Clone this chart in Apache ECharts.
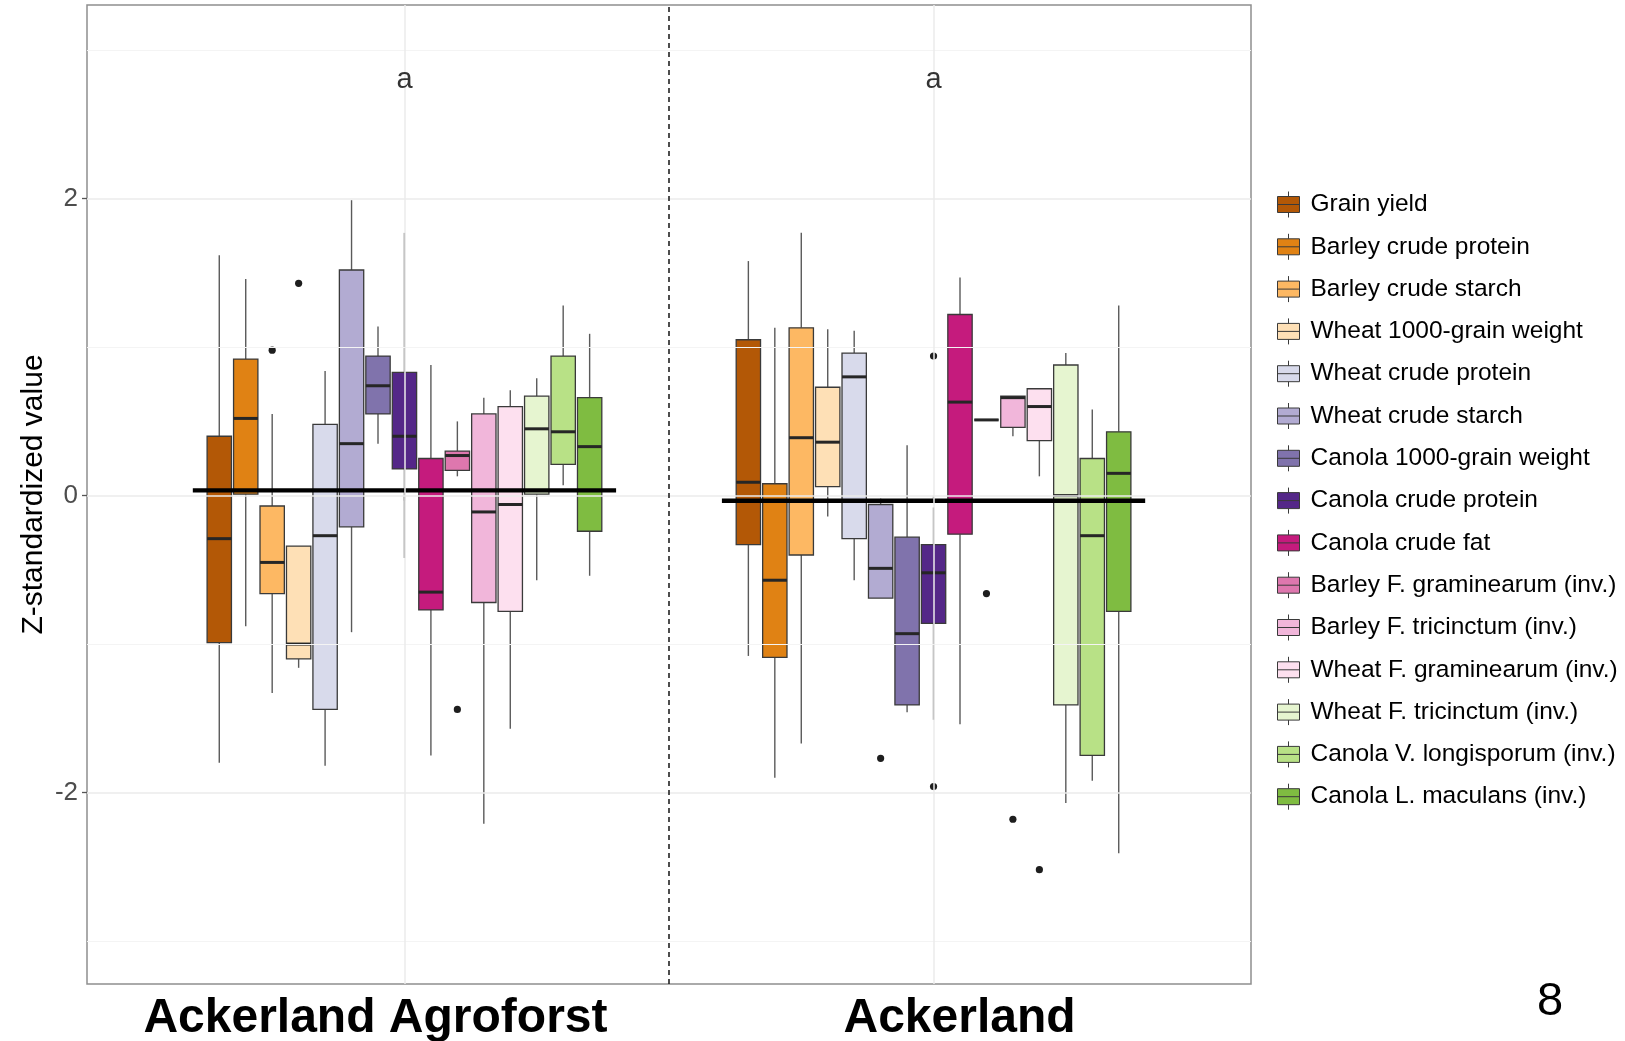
<!DOCTYPE html>
<html>
<head>
<meta charset="utf-8">
<title>Z-standardized values by land use</title>
<script src="https://cdn.jsdelivr.net/npm/echarts@6/dist/echarts.min.js"></script>
<style>
  html, body { margin: 0; padding: 0; background: #ffffff; }
  #chart { width: 1625px; height: 1041px; }
</style>
</head>
<body>
<div id="chart"></div>
<script>
// Land-use groups on the x axis (positions 1 and 2)
const groups = ['Ackerland Agroforst', 'Ackerland'];

// Measured variables, one box per variable within each group
const variables = [
  'Grain yield',
  'Barley crude protein',
  'Barley crude starch',
  'Wheat 1000-grain weight',
  'Wheat crude protein',
  'Wheat crude starch',
  'Canola 1000-grain weight',
  'Canola crude protein',
  'Canola crude fat',
  'Barley F. graminearum (inv.)',
  'Barley F. tricinctum (inv.)',
  'Wheat F. graminearum (inv.)',
  'Wheat F. tricinctum (inv.)',
  'Canola V. longisporum (inv.)',
  'Canola L. maculans (inv.)'
];

// Box statistics per variable: [lower whisker, Q1, median, Q3, upper whisker]
const agroforstBoxes = [
  [-1.80, -0.99, -0.29, 0.40, 1.62],
  [-0.88, 0.01, 0.52, 0.92, 1.46],
  [-1.33, -0.66, -0.45, -0.07, 0.55],
  [-1.16, -1.10, -1.00, -0.34, -0.34],
  [-1.82, -1.44, -0.27, 0.48, 0.84],
  [-0.92, -0.21, 0.35, 1.52, 1.99],
  [0.35, 0.55, 0.74, 0.94, 1.14],
  [-0.42, 0.18, 0.40, 0.83, 1.77],
  [-1.75, -0.77, -0.65, 0.25, 0.88],
  [0.13, 0.17, 0.27, 0.30, 0.50],
  [-2.21, -0.72, -0.11, 0.55, 0.66],
  [-1.57, -0.78, -0.06, 0.60, 0.71],
  [-0.57, 0.01, 0.45, 0.67, 0.79],
  [0.07, 0.21, 0.43, 0.94, 1.28],
  [-0.54, -0.24, 0.33, 0.66, 1.09]
];

const ackerlandBoxes = [
  [-1.08, -0.33, 0.09, 1.05, 1.58],
  [-1.90, -1.09, -0.57, 0.08, 1.13],
  [-1.67, -0.40, 0.39, 1.13, 1.77],
  [-0.14, 0.06, 0.36, 0.73, 1.12],
  [-0.57, -0.29, 0.80, 0.96, 1.11],
  [-0.69, -0.69, -0.49, -0.06, -0.02],
  [-1.46, -1.41, -0.93, -0.28, 0.34],
  [-1.51, -0.86, -0.52, -0.33, -0.08],
  [-1.54, -0.26, 0.63, 1.22, 1.47],
  [0.51, 0.51, 0.51, 0.51, 0.51],
  [0.40, 0.46, 0.66, 0.67, 0.67],
  [0.13, 0.37, 0.60, 0.72, 0.72],
  [-2.07, -1.41, 0.00, 0.88, 0.96],
  [-1.92, -1.75, -0.27, 0.25, 0.58],
  [-2.41, -0.78, 0.15, 0.43, 1.28]
];

// Outlying observations: [variable index, value]
const agroforstOutliers = [[2, 0.98], [3, 1.43], [9, -1.44]];
const ackerlandOutliers = [[5, -1.77], [7, 0.94], [7, -1.96], [9, -0.66], [10, -2.18], [11, -2.52]];

// Group means drawn as a horizontal bar across each group
const groupMeans = [0.035, -0.035];

// Significance letters above each group
const groupLetters = ['a', 'a'];
const letterLevel = 2.81;

// Y-axis tick values
const yTicks = [-2, 0, 2];
const yMinorLines = [-3, -1, 1, 3];

// Fill colours for the variables (PuOr + PiYG ramps)
const palette = [
  '#B35806', '#E08214', '#FDB863', '#FEE0B6', '#D8DAEB', '#B2ABD2', '#8073AC',
  '#542788', '#C51B7D', '#DE77AE', '#F1B6DA', '#FDE0EF', '#E6F5D0', '#B8E186', '#7FBC41'
];

const N = variables.length;
const DODGE = 0.75;          // total width (in x units) shared by the boxes of one group
const BOX_FILL_RATIO = 0.92; // box width relative to its dodge slot
const FONT = '"Liberation Sans", Arial, Helvetica, sans-serif';

function slotOffset(api, idx) {
  const unit = api.size([1, 0])[0];
  const slot = unit * DODGE / N;
  return { off: (idx - (N - 1) / 2) * slot, slot: slot };
}

function makeBoxRenderer(idx) {
  return function (params, api) {
    const xv = api.value(0);
    const s = slotOffset(api, idx);
    const cx = api.coord([xv, 0])[0] + s.off;
    const hw = s.slot * BOX_FILL_RATIO / 2;
    const yLo = api.coord([xv, api.value(1)])[1];
    const yQ1 = api.coord([xv, api.value(2)])[1];
    const yMed = api.coord([xv, api.value(3)])[1];
    const yQ3 = api.coord([xv, api.value(4)])[1];
    const yHi = api.coord([xv, api.value(5)])[1];
    const whisker = { stroke: '#5a5a5a', lineWidth: 1.4 };
    return {
      type: 'group',
      children: [
        { type: 'line', shape: { x1: cx, y1: yQ3, x2: cx, y2: yHi }, style: whisker },
        { type: 'line', shape: { x1: cx, y1: yQ1, x2: cx, y2: yLo }, style: whisker },
        {
          type: 'rect',
          shape: { x: cx - hw, y: yQ3, width: hw * 2, height: yQ1 - yQ3 },
          style: { fill: palette[idx], stroke: '#3a3a3a', lineWidth: 1.3 }
        },
        {
          type: 'line',
          shape: { x1: cx - hw, y1: yMed, x2: cx + hw, y2: yMed },
          style: { stroke: '#262626', lineWidth: 3 }
        }
      ]
    };
  };
}

const series = [];

// Background grid lines drawn through the axis scales
series.push({
  type: 'line',
  data: [],
  z: 0,
  silent: true,
  markLine: {
    silent: true,
    symbol: 'none',
    label: { show: false },
    animation: false,
    data: [].concat(
      yMinorLines.map(v => ({ yAxis: v, lineStyle: { color: '#f4f4f4', width: 1, type: 'solid' } })),
      yTicks.map(v => ({ yAxis: v, lineStyle: { color: '#ebebeb', width: 1.5, type: 'solid' } })),
      [1, 2].map(v => ({ xAxis: v, lineStyle: { color: '#ebebeb', width: 1.5, type: 'solid' } })),
      [{ xAxis: 1.5, lineStyle: { color: '#222222', width: 1.6, type: [5, 4] } }]
    )
  }
});

// One box series per variable
variables.forEach((name, idx) => {
  series.push({
    name: name,
    type: 'custom',
    z: 2,
    itemStyle: { color: palette[idx] },
    encode: { x: 0, y: [1, 2, 3, 4, 5] },
    renderItem: makeBoxRenderer(idx),
    data: [
      [1].concat(agroforstBoxes[idx]),
      [2].concat(ackerlandBoxes[idx])
    ],
    animation: false
  });
});

// Outlier points
const outlierData = agroforstOutliers.map(o => [1, o[0], o[1]])
  .concat(ackerlandOutliers.map(o => [2, o[0], o[1]]));
series.push({
  type: 'custom',
  z: 3,
  encode: { x: 0, y: 2 },
  renderItem: function (params, api) {
    const xv = api.value(0);
    const s = slotOffset(api, api.value(1));
    const p = api.coord([xv, api.value(2)]);
    return {
      type: 'circle',
      shape: { cx: p[0] + s.off, cy: p[1], r: 3.6 },
      style: { fill: '#1e1e1e' }
    };
  },
  data: outlierData,
  animation: false
});

// Group mean bars
series.push({
  type: 'custom',
  z: 4,
  encode: { x: 0, y: 1 },
  renderItem: function (params, api) {
    const xv = api.value(0);
    const yv = api.value(1);
    const a = api.coord([xv - 0.4, yv]);
    const b = api.coord([xv + 0.4, yv]);
    return {
      type: 'line',
      shape: { x1: a[0], y1: a[1], x2: b[0], y2: b[1] },
      style: { stroke: '#000000', lineWidth: 4.4 }
    };
  },
  data: groupMeans.map((m, i) => [i + 1, m]),
  animation: false
});

// Significance letters
series.push({
  type: 'scatter',
  z: 5,
  symbolSize: 0,
  silent: true,
  data: groupLetters.map((t, i) => ({ value: [i + 1, letterLevel] })),
  label: {
    show: true,
    position: 'inside',
    offset: [0, 2],
    formatter: p => groupLetters[p.dataIndex],
    fontSize: 29,
    fontFamily: FONT,
    color: '#000000'
  },
  animation: false
});

const chart = echarts.init(document.getElementById('chart'), null, { renderer: 'canvas' });

chart.setOption({
  backgroundColor: '#ffffff',
  animation: false,
  grid: {
    left: 87,
    right: 374,
    top: 5,
    bottom: 57,
    outerBoundsMode: 'none',
    containLabel: false,
    show: true,
    borderColor: '#8f8f8f',
    borderWidth: 1.5,
    backgroundColor: 'transparent'
  },
  xAxis: {
    type: 'value',
    min: 0.4,
    max: 2.6,
    axisLine: { show: false },
    splitLine: { show: false },
    axisTick: {
      show: true,
      length: 5,
      customValues: [1, 2],
      lineStyle: { color: '#555555', width: 1.3 }
    },
    axisLabel: {
      show: true,
      customValues: [1, 2],
      margin: 11,
      formatter: v => (Math.round(v) === 1 ? '{l|' + groups[0] + '}' : '{r|' + groups[1] + '}'),
      rich: {
        l: { fontSize: 48, fontWeight: 'bold', fontFamily: FONT, color: '#000000', padding: [0, 58, 0, 0] },
        r: { fontSize: 48, fontWeight: 'bold', fontFamily: FONT, color: '#000000', padding: [0, 0, 0, 52] }
      }
    }
  },
  yAxis: {
    type: 'value',
    min: -3.29,
    max: 3.305,
    name: 'Z-standardized value',
    nameLocation: 'middle',
    nameGap: 38,
    nameMoveOverlap: false,
    nameTextStyle: { fontSize: 30, fontFamily: FONT, color: '#000000' },
    axisLine: { show: false },
    splitLine: { show: false },
    axisTick: {
      show: true,
      length: 5,
      customValues: yTicks,
      lineStyle: { color: '#555555', width: 1.3 }
    },
    axisLabel: {
      show: true,
      customValues: yTicks,
      margin: 9,
      fontSize: 26,
      fontFamily: FONT,
      color: '#4d4d4d'
    }
  },
  legend: {
    data: variables,
    orient: 'vertical',
    left: 1272,
    top: 186,
    itemWidth: 22,
    itemHeight: 26,
    itemGap: 15.3,
    icon: 'path://M0,5H22V21H0ZM0,13H22M11,0V5M11,21V26',
    itemStyle: { borderColor: '#3a3a3a', borderWidth: 1 },
    textStyle: { fontSize: 24.5, fontFamily: FONT, color: '#000000', padding: [0, 0, 0, 6] },
    selectedMode: false
  },
  graphic: [
    {
      type: 'text',
      left: 1537,
      top: 979,
      style: { text: '8', fontSize: 47, fontFamily: FONT, fill: '#000000' }
    }
  ],
  series: series
});
</script>
</body>
</html>
